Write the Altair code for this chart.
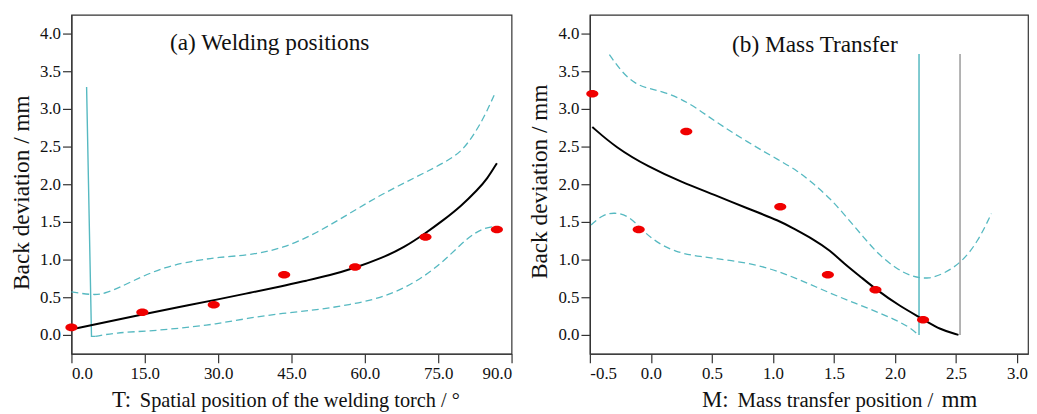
import altair as alt
import pandas as pd

# ---------------- Panel (a): welding positions ----------------
a_pt_x = [0.0, 14.5, 29.1, 43.5, 58.0, 72.4, 87.0]
a_pt_y = [0.1, 0.3, 0.4, 0.8, 0.9, 1.3, 1.4]

a_fit_x = [0.5, 7.0, 14.5, 22.0, 29.9, 36.5, 43.3, 48.0, 52.8, 58.0, 63.5, 68.0, 72.4, 76.0, 79.7, 83.1, 85.0, 87.0]
a_fit_y = [0.08, 0.17, 0.27, 0.37, 0.47, 0.56, 0.65, 0.72, 0.79, 0.89, 1.02, 1.16, 1.35, 1.52, 1.71, 1.93, 2.07, 2.28]

a_up_x = [0.0, 4.2, 6.9, 12.3, 19.1, 25.8, 29.9, 36.6, 43.3, 50.1, 56.8, 63.5, 70.3, 77.0, 80.0, 82.4, 84.4, 86.7]
a_up_y = [0.57, 0.53, 0.54, 0.71, 0.91, 0.99, 1.03, 1.06, 1.15, 1.35, 1.61, 1.87, 2.09, 2.31, 2.45, 2.67, 2.89, 3.22]

a_lo_x = [4.9, 9.0, 15.7, 22.4, 29.2, 35.9, 43.3, 50.1, 56.8, 63.5, 70.3, 75.7, 79.7, 82.4, 84.5, 86.5]
a_lo_y = [-0.02, 0.03, 0.05, 0.09, 0.14, 0.22, 0.29, 0.33, 0.40, 0.49, 0.69, 0.95, 1.21, 1.35, 1.42, 1.44]

a_lim_x = [3.1, 4.1, 4.9]
a_lim_y = [3.29, -0.02, -0.02]

a_xticks = [0, 15, 30, 45, 60, 75, 90]
a_title = "(a) Welding positions"
a_xlab_big = "T:"
a_xlab_small = "Spatial position of the welding torch / °"

# ---------------- Panel (b): mass transfer ----------------
b_pt_x = [-0.48, -0.1, 0.29, 1.06, 1.45, 1.84, 2.23]
b_pt_y = [3.2, 1.4, 2.7, 1.7, 0.8, 0.6, 0.2]

b_fit_x = [-0.48, -0.29, -0.02, 0.25, 0.52, 0.79, 1.06, 1.17, 1.33, 1.47, 1.58, 1.72, 1.84, 2.04, 2.23, 2.37, 2.52]
b_fit_y = [2.76, 2.49, 2.23, 2.03, 1.86, 1.68, 1.51, 1.41, 1.27, 1.12, 0.95, 0.77, 0.61, 0.38, 0.21, 0.07, 0.0]

b_up_x = [-0.34, -0.235, -0.127, -0.02, 0.116, 0.25, 0.386, 0.52, 0.79, 1.06, 1.2, 1.33, 1.47, 1.6, 1.74, 1.87, 2.01, 2.14, 2.28, 2.41, 2.55, 2.68, 2.79]
b_up_y = [3.72, 3.48, 3.33, 3.27, 3.22, 3.13, 3.0, 2.84, 2.56, 2.31, 2.18, 2.01, 1.81, 1.57, 1.30, 1.06, 0.88, 0.77, 0.74, 0.82, 0.97, 1.24, 1.61]

b_lo_x = [-0.49, -0.4, -0.30, -0.18, -0.07, 0.035, 0.2, 0.39, 0.66, 0.93, 1.2, 1.47, 1.74, 2.01, 2.14, 2.19]
b_lo_y = [1.46, 1.59, 1.63, 1.58, 1.39, 1.24, 1.10, 1.04, 0.99, 0.91, 0.75, 0.55, 0.38, 0.20, 0.08, 0.0]

b_vlines_x = [2.197, 2.533]
b_vlines_y0 = [0.0, 0.0]
b_vlines_y1 = [3.73, 3.73]
b_vlines_kind = ["cyan", "gray"]

b_xticks = [-0.5, 0.0, 0.5, 1.0, 1.5, 2.0, 2.5, 3.0]
b_title = "(b) Mass Transfer"
b_xlab_big1 = "M:"
b_xlab_small = "Mass transfer position /"
b_xlab_big2 = "mm"

y_ticks = [0.0, 0.5, 1.0, 1.5, 2.0, 2.5, 3.0, 3.5, 4.0]
y_title = "Back deviation / mm"

# ---------------- styling ----------------
FONT = "Liberation Serif"
CYAN = "#56b9c1"
RED = "#f00000"
ELLIPSE = "M-1,0A1,0.62,0,1,0,1,0A1,0.62,0,1,0,-1,0Z"
W_A, W_B, H = 444, 442, 342
AX = dict(labelFont=FONT, labelFontSize=17, labelColor="#111",
          domainColor="#333", domainWidth=1.2, tickColor="#333",
          tickWidth=1.2, tickSize=9, grid=False)


def df(xs, ys):
    return pd.DataFrame({"x": xs, "y": ys})


def panel(xdom, xticks, width, pts, fit, up, lo, ytitle_y, texts, extra):
    x_enc = alt.X(
        "x:Q",
        scale=alt.Scale(domain=xdom, nice=False, zero=False),
        axis=alt.Axis(
            values=xticks,
            labelExpr="replace(format(datum.value, '.1f'), '\u2212', '-')",
            title=None,
            labelPadding=3,
            **AX,
        ),
    )
    y_enc = alt.Y(
        "y:Q",
        scale=alt.Scale(domain=[-0.25, 4.25], nice=False, zero=False),
        axis=alt.Axis(values=y_ticks, format=".1f", title=y_title,
                      titleY=ytitle_y, titlePadding=6, labelPadding=2,
                      titleFont=FONT, titleFontSize=23.5,
                      titleFontWeight="normal", titleColor="#111", **AX),
    )
    layers = []
    dash = dict(color=CYAN, strokeWidth=1.3, strokeDash=[7, 4], interpolate="basis")
    layers.append(alt.Chart(df(*up)).mark_line(**dash).encode(x=x_enc, y=y_enc, order="x:Q"))
    layers.append(alt.Chart(df(*lo)).mark_line(**dash).encode(x=x_enc, y=y_enc, order="x:Q"))
    layers.extend(extra(x_enc, y_enc))
    layers.append(alt.Chart(df(*fit)).mark_line(color="black", strokeWidth=2, interpolate="basis").encode(x=x_enc, y=y_enc, order="x:Q"))
    layers.append(alt.Chart(df(*pts)).mark_point(shape=ELLIPSE, filled=True, size=150, color=RED, opacity=1).encode(x=x_enc, y=y_enc))
    for t, px, py, fs, align in texts:
        layers.append(
            alt.Chart(pd.DataFrame({"t": [t]}))
            .mark_text(font=FONT, fontSize=fs, align=align, baseline="alphabetic", color="#111")
            .encode(text="t:N", x=alt.value(px), y=alt.value(py))
        )
    return alt.layer(*layers).properties(width=width, height=H)


def extra_a(x_enc, y_enc):
    d = df(a_lim_x, a_lim_y).reset_index()
    return [alt.Chart(d).mark_line(color=CYAN, strokeWidth=1.4).encode(x=x_enc, y=y_enc, order="index:Q")]


def extra_b(x_enc, y_enc):
    d = pd.DataFrame({"x": b_vlines_x, "y": b_vlines_y0, "y2": b_vlines_y1, "k": b_vlines_kind})
    return [
        alt.Chart(d).mark_rule(strokeWidth=1.5).encode(
            x=x_enc, y=y_enc, y2="y2:Q",
            color=alt.Color("k:N", scale=alt.Scale(domain=["cyan", "gray"], range=[CYAN, "#9a9a9a"]), legend=None),
        )
    ]


left = panel(
    [0, 90], a_xticks, W_A,
    (a_pt_x, a_pt_y), (a_fit_x, a_fit_y), (a_up_x, a_up_y), (a_lo_x, a_lo_y),
    179,
    [
        (a_title, 200, 36, 23.5, "center"),
        (a_xlab_big, 41, 396, 23, "left"),
        (a_xlab_small, 69, 396, 20.5, "left"),
    ],
    extra_a,
)

right = panel(
    [-0.5, 3.09], b_xticks, W_B,
    (b_pt_x, b_pt_y), (b_fit_x, b_fit_y), (b_up_x, b_up_y), (b_lo_x, b_lo_y),
    168,
    [
        (b_title, 227, 38, 23.5, "center"),
        (b_xlab_big1, 113, 396, 23, "left"),
        (b_xlab_small, 149, 396, 21, "left"),
        (b_xlab_big2, 355, 396, 23, "left"),
    ],
    extra_b,
)

chart = (
    alt.hconcat(left, right, spacing=14)
    .properties(padding={"left": 1, "top": 4, "right": 0, "bottom": 0})
    .configure_view(stroke="#333", strokeWidth=1.2)
)

chart.save("out.html", embed_options={"renderer": "svg", "actions": False})
